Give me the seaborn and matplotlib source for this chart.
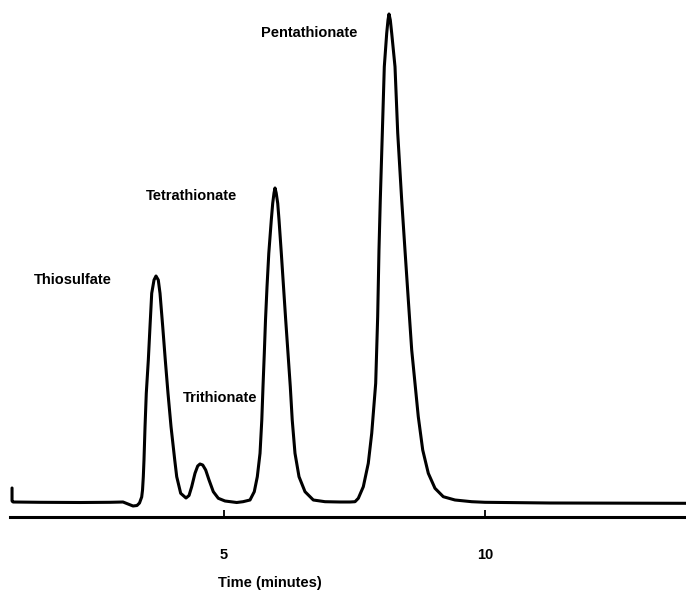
import matplotlib
matplotlib.use("Agg")
import matplotlib.pyplot as plt
import pandas as pd
import seaborn as sns

# Detector trace: time (minutes) and response (arbitrary units)
time_min = [
    0.939, 0.939, 0.958, 1.475, 2.241, 2.816, 3.065, 3.161, 3.257, 3.333, 3.381,
    3.423, 3.439, 3.454, 3.467, 3.487, 3.511, 3.550, 3.582, 3.615, 3.659, 3.697,
    3.741, 3.774, 3.826, 3.875, 3.927, 3.985, 4.056, 4.094, 4.170, 4.272,
    4.330, 4.381, 4.444, 4.496, 4.540, 4.592, 4.649, 4.713, 4.795, 4.891, 5.019,
    5.243, 5.364, 5.498, 5.580, 5.638, 5.690, 5.724, 5.747, 5.772, 5.795, 5.824,
    5.858, 5.906, 5.933, 5.958, 5.977, 6.000, 6.029, 6.054, 6.098, 6.140, 6.182,
    6.226, 6.270, 6.307, 6.360, 6.437, 6.552, 6.711, 6.935, 7.222,
    7.414, 7.510, 7.573, 7.669, 7.764, 7.830, 7.906, 7.944, 7.969, 7.994, 8.033,
    8.071, 8.117, 8.142, 8.161, 8.186, 8.213, 8.276, 8.328, 8.404, 8.467, 8.531,
    8.596, 8.659, 8.722, 8.807, 8.914, 9.042, 9.201, 9.425, 9.745, 10.000,
    11.245, 13.851,
]
response = [
    14, 1, 0, -0.3, -0.5, -0.3, 0, -2, -4, -3.5, -1,
    5, 12, 25.3, 42, 75.3, 108.7, 142, 175.3, 208.7, 222, 226,
    222, 208.7, 175.3, 142, 108.7, 75.3, 42, 25.3, 8.7, 4,
    6.5, 15.3, 28.7, 36, 38, 37, 32, 22, 10.3, 3.7, 1,
    -0.5, 0.3, 2, 10.3, 25.3, 48.7, 82, 115.3, 148.7, 182, 215.3,
    248.7, 282, 298.7, 309, 314, 309, 298.7, 282, 248.7, 215.3, 182,
    148.7, 115.3, 82, 48.7, 25.3, 10.3, 2, 0.3, 0,
    0, 0.3, 3.7, 15.3, 38.7, 68.7, 118.7, 185.3, 252, 302, 369,
    435.3, 468.7, 482, 488, 482, 468.7, 435.3, 369, 302, 252, 202,
    152, 118.7, 85.3, 52, 28.7, 13.7, 5.3, 2, 0.3, -0.3,
    -1, -1.3,
]

peak_names = ["Thiosulfate", "Trithionate", "Tetrathionate", "Pentathionate"]
label_time = [1.36, 4.215, 3.506, 5.70]
label_resp = [222, 104, 306, 469]

tick_values = [5, 10]
tick_labels = ["5", "10"]
x_title = "Time (minutes)"

sns.set_theme(style="white")
plt.rcParams["font.family"] = ["Liberation Sans", "DejaVu Sans"]

W, H = 686, 590
fig = plt.figure(figsize=(W / 100, H / 100), dpi=100)
ax_left, ax_right, ax_bottom, ax_top = 10, 686, 517, 5
ax = fig.add_axes([ax_left / W, (H - ax_bottom) / H,
                   (ax_right - ax_left) / W, (ax_bottom - ax_top) / H])

df = pd.DataFrame({"time": time_min, "response": response})
sns.lineplot(data=df, x="time", y="response", sort=False, estimator=None,
             color="black", linewidth=2.2, ax=ax)

ax.set_xlim(0.9, 13.851)
ax.set_ylim(-15, 497)

for s in ["left", "top", "right"]:
    ax.spines[s].set_visible(False)
ax.spines["bottom"].set_color("black")
ax.spines["bottom"].set_linewidth(2.2)

ax.set_yticks([])
ax.set_ylabel("")
ax.set_xticks(tick_values)
ax.set_xticklabels(tick_labels, fontsize=10.5, fontweight="bold")
ax.tick_params(axis="x", direction="in", length=5, width=1.3, color="black",
               pad=22, labelcolor="black", bottom=True)

ax.set_xlabel(x_title, fontsize=10.5, fontweight="bold", color="black")
ax.xaxis.label.set_va("center")
ax.xaxis.set_label_coords((270 - ax_left) / (ax_right - ax_left),
                          (ax_bottom - 583) / (ax_bottom - ax_top))

for name, tx, ry in zip(peak_names, label_time, label_resp):
    ax.text(tx, ry, name, ha="left", va="center", fontsize=10.5,
            fontweight="bold", color="black")

fig.savefig("out.png", dpi=100)
